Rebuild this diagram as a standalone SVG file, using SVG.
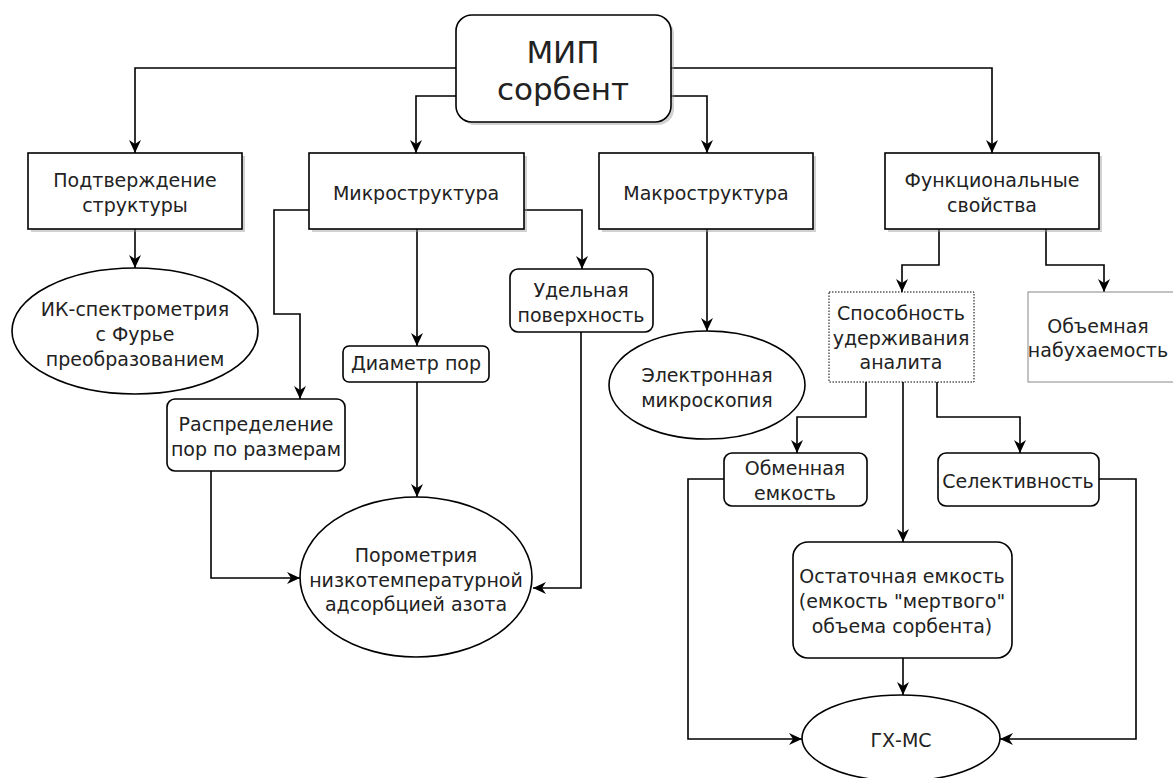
<svg xmlns="http://www.w3.org/2000/svg" width="1173" height="778" viewBox="0 0 1173 778">
<style>
text{font-family:"DejaVu Sans",Verdana,sans-serif;font-size:19px;fill:#222;text-anchor:middle}
.big{font-size:31px}
.box{fill:#fff;stroke:#000;stroke-width:1.6}
.sh{fill:#999;opacity:0.45}
.conn{fill:none;stroke:#000;stroke-width:1.6}
</style>
<defs>
<marker id="arr" markerUnits="userSpaceOnUse" markerWidth="14" markerHeight="14" viewBox="0 0 14 14" refX="13" refY="7" orient="auto">
<path d="M0,1 L13,7 L0,13 L4,7 z" fill="#000"/>
</marker>
</defs>
<rect width="1173" height="778" fill="#fff"/>
<g id="connectors">
<path class="conn" marker-end="url(#arr)" d="M456,68 H135 V153"/>
<path class="conn" marker-end="url(#arr)" d="M456,96 H416 V153"/>
<path class="conn" marker-end="url(#arr)" d="M671,96 H707 V153"/>
<path class="conn" marker-end="url(#arr)" d="M671,68 H992 V153"/>
<path class="conn" marker-end="url(#arr)" d="M135,229 V268"/>
<path class="conn" marker-end="url(#arr)" d="M309,210 H274 V314 H300 V399"/>
<path class="conn" marker-end="url(#arr)" d="M417,229 V346"/>
<path class="conn" marker-end="url(#arr)" d="M524,210 H582 V269"/>
<path class="conn" marker-end="url(#arr)" d="M707,229 V331"/>
<path class="conn" marker-end="url(#arr)" d="M939,229 V265 H902 V292"/>
<path class="conn" marker-end="url(#arr)" d="M1046,229 V265 H1104 V292"/>
<path class="conn" marker-end="url(#arr)" d="M211,471 V578 H300"/>
<path class="conn" marker-end="url(#arr)" d="M417,382 V497"/>
<path class="conn" marker-end="url(#arr)" d="M581,332 V588 H533"/>
<path class="conn" marker-end="url(#arr)" d="M866,382 V417 H797 V453"/>
<path class="conn" marker-end="url(#arr)" d="M903,382 V542"/>
<path class="conn" marker-end="url(#arr)" d="M937,382 V417 H1020 V453"/>
<path class="conn" marker-end="url(#arr)" d="M724,479 H688 V739 H802"/>
<path class="conn" marker-end="url(#arr)" d="M1099,479 H1136 V739 H1000"/>
<path class="conn" marker-end="url(#arr)" d="M903,658 V695"/>
</g>
<g id="mip">
<rect class="sh" x="459" y="18" width="215" height="107" rx="16"/>
<rect class="box" x="456" y="15" width="215" height="107" rx="16"/>
<text class="big" x="563" y="63">МИП</text>
<text class="big" x="563" y="100">сорбент</text>
</g>
<g id="podtv">
<rect class="sh" x="31" y="156" width="214" height="76"/>
<rect class="box" x="28" y="153" width="214" height="76"/>
<text x="135" y="187">Подтверждение</text>
<text x="135" y="212">структуры</text>
</g>
<g id="mikro">
<rect class="sh" x="312" y="156" width="215" height="76"/>
<rect class="box" x="309" y="153" width="215" height="76"/>
<text x="416" y="200">Микроструктура</text>
</g>
<g id="makro">
<rect class="sh" x="602" y="156" width="214" height="76"/>
<rect class="box" x="599" y="153" width="214" height="76"/>
<text x="706" y="200">Макроструктура</text>
</g>
<g id="func">
<rect class="sh" x="888" y="156" width="214" height="76"/>
<rect class="box" x="885" y="153" width="214" height="76"/>
<text x="992" y="187">Функциональные</text>
<text x="992" y="212">свойства</text>
</g>
<g id="ik">
<ellipse class="box" cx="135" cy="331" rx="123" ry="63"/>
<text x="135" y="316">ИК-спектрометрия</text>
<text x="135" y="341">с Фурье</text>
<text x="135" y="366">преобразованием</text>
</g>
<g id="raspr">
<rect class="box" x="167" y="399" width="178" height="72" rx="8"/>
<text x="256" y="431">Распределение</text>
<text x="256" y="456">пор по размерам</text>
</g>
<g id="diam">
<rect class="box" x="343" y="346" width="146" height="36" rx="6"/>
<text x="416" y="370">Диаметр пор</text>
</g>
<g id="udel">
<rect class="box" x="510" y="269" width="143" height="63" rx="8"/>
<text x="581" y="297">Удельная</text>
<text x="581" y="322">поверхность</text>
</g>
<g id="elektr">
<ellipse class="box" cx="707" cy="385" rx="98" ry="54"/>
<text x="707" y="382">Электронная</text>
<text x="707" y="407">микроскопия</text>
</g>
<g id="porom">
<ellipse class="box" cx="416" cy="577" rx="116" ry="80"/>
<text x="416" y="562">Порометрия</text>
<text x="416" y="587">низкотемпературной</text>
<text x="416" y="611">адсорбцией азота</text>
</g>
<g id="sposob">
<rect x="829" y="292" width="145" height="90" fill="#fff" stroke="#000" stroke-width="1" stroke-dasharray="1.5,1.5"/>
<text x="901" y="320">Способность</text>
<text x="901" y="345">удерживания</text>
<text x="901" y="369">аналита</text>
</g>
<g id="obem">
<rect x="1028" y="292" width="150" height="90" fill="#fff" stroke="#888" stroke-width="1"/>
<text x="1098" y="333">Объемная</text>
<text x="1098" y="357">набухаемость</text>
</g>
<g id="obmen">
<rect class="box" x="724" y="453" width="143" height="53" rx="8"/>
<text x="795" y="475">Обменная</text>
<text x="795" y="500">емкость</text>
</g>
<g id="selekt">
<rect class="box" x="938" y="453" width="161" height="53" rx="8"/>
<text x="1018" y="488">Селективность</text>
</g>
<g id="ostat">
<rect class="box" x="793" y="542" width="219" height="116" rx="15"/>
<text x="902" y="583">Остаточная емкость</text>
<text x="902" y="608">(емкость "мертвого"</text>
<text x="902" y="633">объема сорбента)</text>
</g>
<g id="gxms">
<ellipse class="box" cx="901" cy="738" rx="99" ry="43"/>
<text x="901" y="747">ГХ-МС</text>
</g>
</svg>
